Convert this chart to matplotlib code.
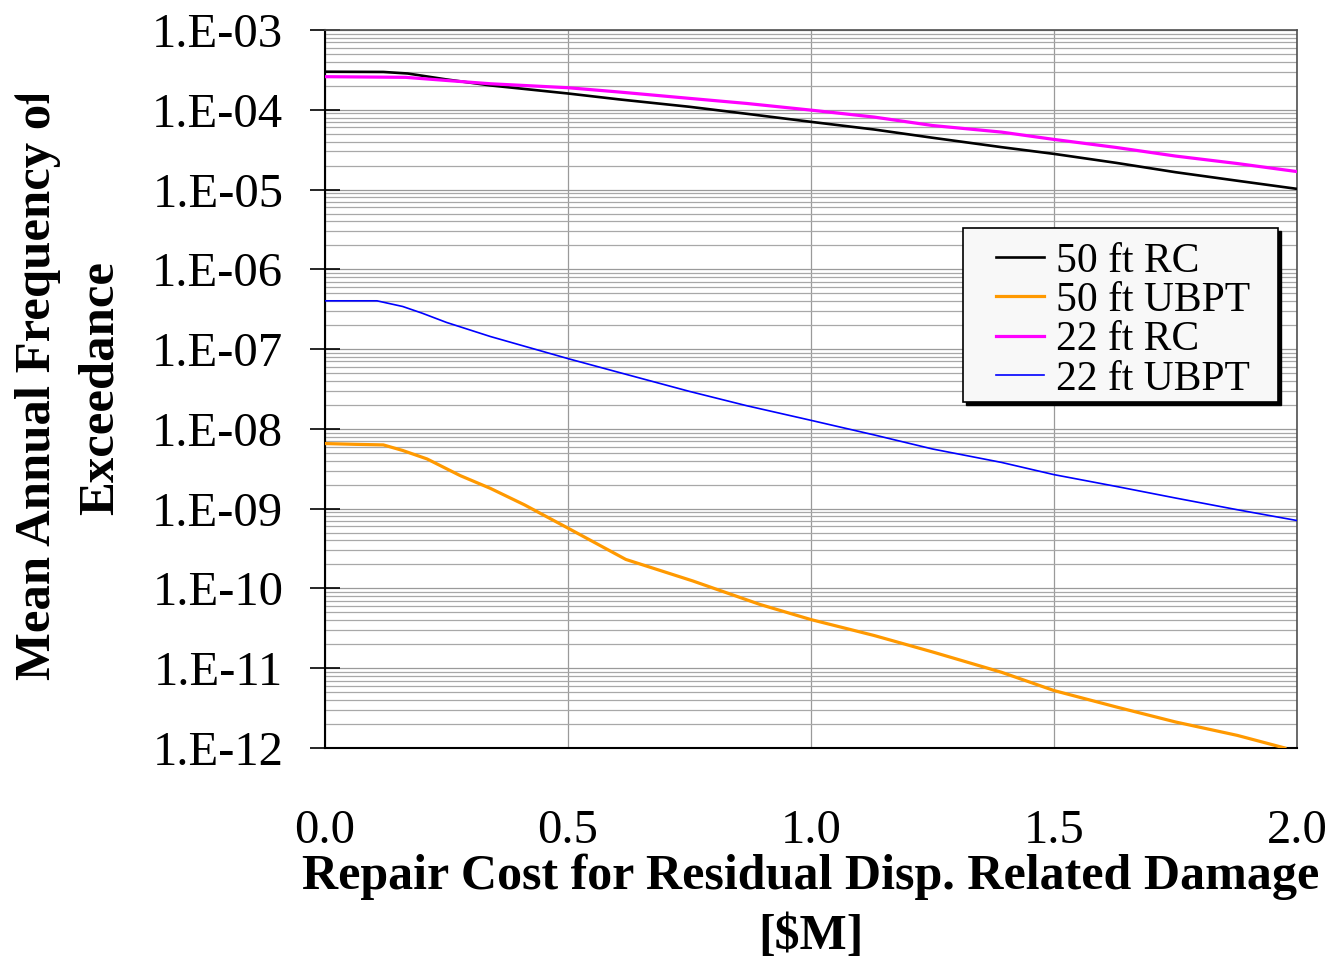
import matplotlib
matplotlib.use("Agg")
import matplotlib.pyplot as plt
import numpy as np
from matplotlib.ticker import LogLocator, FuncFormatter, NullFormatter
from matplotlib.patches import Rectangle
import matplotlib.transforms as mtransforms

# ---- data ----
x_50rc = [0, 0.12, 0.17, 0.25, 0.34, 0.5, 0.605, 0.75, 0.868, 1.0, 1.13, 1.25,
          1.392, 1.5, 1.628, 1.75, 1.877, 2.0]
y_50rc = [3.0e-4, 2.98e-4, 2.85e-4, 2.4e-4, 2.02e-4, 1.6e-4, 1.35e-4, 1.09e-4,
          8.9e-5, 7.06e-5, 5.66e-5, 4.46e-5, 3.4e-5, 2.8e-5, 2.16e-5, 1.65e-5,
          1.29e-5, 1.02e-5]

x_50ubpt = [0, 0.063, 0.12, 0.16, 0.21, 0.278, 0.34, 0.41, 0.5, 0.619, 0.757,
            0.895, 1.0, 1.13, 1.25, 1.392, 1.5, 1.628, 1.75, 1.877, 1.975]
y_50ubpt = [6.55e-9, 6.4e-9, 6.3e-9, 5.36e-9, 4.2e-9, 2.6e-9, 1.8e-9, 1.12e-9,
            5.7e-10, 2.31e-10, 1.24e-10, 6.3e-11, 4.07e-11, 2.57e-11, 1.6e-11,
            8.9e-12, 5.25e-12, 3.27e-12, 2.12e-12, 1.44e-12, 1.0e-12]

x_22rc = [0, 0.166, 0.25, 0.34, 0.5, 0.605, 0.75, 0.868, 1.0, 1.13, 1.25,
          1.392, 1.5, 1.628, 1.75, 1.877, 2.0]
y_22rc = [2.6e-4, 2.55e-4, 2.33e-4, 2.12e-4, 1.89e-4, 1.67e-4, 1.39e-4, 1.2e-4,
          9.9e-5, 8.1e-5, 6.35e-5, 5.25e-5, 4.25e-5, 3.37e-5, 2.63e-5, 2.12e-5,
          1.68e-5]

x_22ubpt = [0, 0.107, 0.16, 0.2, 0.25, 0.34, 0.5, 0.605, 0.75, 0.868, 1.0,
            1.13, 1.25, 1.392, 1.5, 1.628, 1.75, 1.877, 2.0]
y_22ubpt = [4.03e-7, 4.03e-7, 3.42e-7, 2.82e-7, 2.16e-7, 1.44e-7, 7.6e-8,
            5.1e-8, 2.95e-8, 1.95e-8, 1.28e-8, 8.4e-9, 5.6e-9, 3.8e-9, 2.67e-9,
            1.9e-9, 1.36e-9, 9.7e-10, 7.1e-10]

labels = ["50 ft RC", "50 ft UBPT", "22 ft RC", "22 ft UBPT"]
x_ticks = [0.0, 0.5, 1.0, 1.5, 2.0]
x_tick_labels = ["0.0", "0.5", "1.0", "1.5", "2.0"]
xlabel = "Repair Cost for Residual Disp. Related Damage\n[$M]"
ylabel_line1 = "Mean Annual Frequency of"
ylabel_line2 = "Exceedance"

plt.rcParams['font.family'] = ['Liberation Serif', 'DejaVu Serif']

W, H = 1333, 958
fig = plt.figure(figsize=(W / 100, H / 100), dpi=100)
ax = fig.add_axes([325/W, 1 - 748/H, (1297-325)/W, (748-30)/H])

ax.plot(x_50rc, y_50rc, color='black', lw=1.9, label=labels[0], zorder=5)
ax.plot(x_50ubpt, y_50ubpt, color='#FF9900', lw=2.3, label=labels[1], zorder=5)
ax.plot(x_22rc, y_22rc, color='#FF00FF', lw=2.3, label=labels[2], zorder=5)
ax.plot(x_22ubpt, y_22ubpt, color='#0000FF', lw=1.2, label=labels[3], zorder=5)

ax.set_yscale('log')
ax.set_ylim(1e-12, 1e-3)
ax.set_xlim(0, 2.0)

ax.yaxis.set_major_locator(LogLocator(base=10, numticks=20))
ax.yaxis.set_minor_locator(LogLocator(base=10, subs=np.arange(2, 10), numticks=20))
ax.yaxis.set_major_formatter(FuncFormatter(lambda v, p: "1.E-%02d" % int(round(-np.log10(v)))))
ax.yaxis.set_minor_formatter(NullFormatter())
ax.set_xticks(x_ticks)
ax.set_xticklabels(x_tick_labels)

ax.grid(True, which='major', axis='both', color='#9a9a9a', lw=0.9)
ax.grid(True, which='minor', axis='y', color='#a8a8a8', lw=0.9)
ax.set_axisbelow(True)

ax.tick_params(axis='y', which='major', direction='inout', length=22, width=1.2,
               labelsize=35, pad=19, colors='black')
ax.tick_params(axis='y', which='minor', length=0)
ax.tick_params(axis='x', which='both', length=0, labelsize=35, pad=44)

for s in ['left', 'bottom']:
    ax.spines[s].set_linewidth(1.5)
    ax.spines[s].set_color('black')
for s in ['top', 'right']:
    ax.spines[s].set_linewidth(1.2)
    ax.spines[s].set_color('#505050')

ax.set_xlabel(xlabel, fontsize=36, fontweight='bold', labelpad=0, linespacing=1.4)

# y label (two lines; first line is cut off at the top as in the reference)
fig.text(38/W, 1 - 680/H, ylabel_line1, rotation=90, ha='center', va='bottom',
         fontsize=36.5, fontweight='bold', zorder=3)
fig.text(101/W, 1 - 388/H, ylabel_line2, rotation=90, ha='center', va='center',
         fontsize=36.5, fontweight='bold', zorder=3)
fig.patches.append(Rectangle((0, 1 - 95/H), 80/W, 95/H, transform=fig.transFigure,
                             facecolor='white', edgecolor='none', zorder=10))

# legend box with black drop shadow
bx0, bx1 = (963-325)/972, (1278-325)/972
by0, by1 = (748-402)/718, (748-228)/718
shadow_tr = ax.transAxes + mtransforms.ScaledTranslation(3/100, -3/100, fig.dpi_scale_trans)
ax.add_patch(Rectangle((bx0, by0), bx1-bx0, by1-by0, transform=shadow_tr,
                       facecolor='black', edgecolor='black', zorder=8))
ax.add_patch(Rectangle((bx0, by0), bx1-bx0, by1-by0, transform=ax.transAxes,
                       facecolor='#f8f8f8', edgecolor='black', lw=1.2, zorder=9))

leg = ax.legend(loc='upper left', bbox_to_anchor=((996-325)/972, (748-242)/718),
                fontsize=30, frameon=False, handlelength=1.15, handletextpad=0.3,
                labelspacing=0.02, borderpad=0, borderaxespad=0)
leg.set_zorder(10)

fig.savefig('out.png', dpi=100)
